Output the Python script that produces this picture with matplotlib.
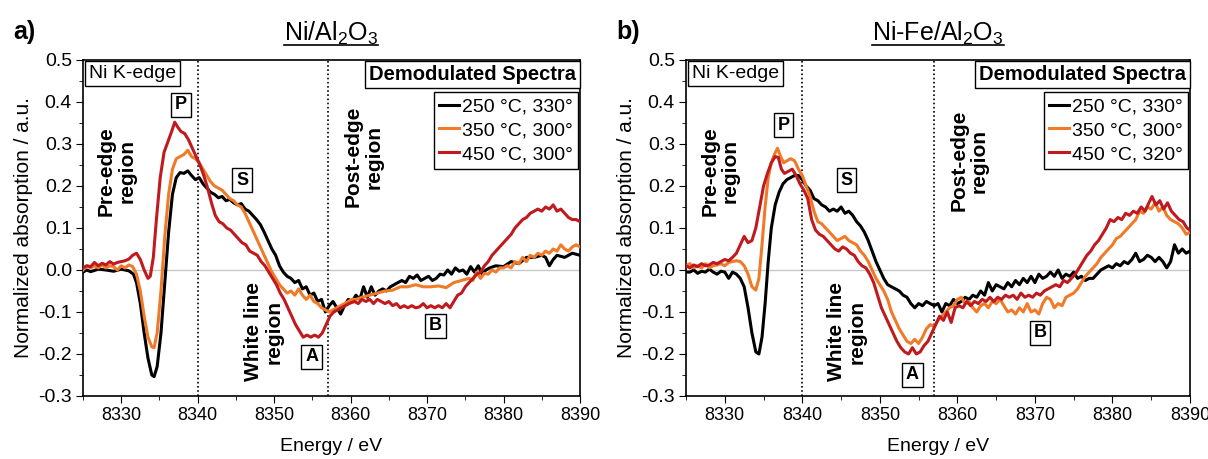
import matplotlib
matplotlib.use("Agg")
import matplotlib.pyplot as plt
from matplotlib.lines import Line2D
from matplotlib.ticker import MultipleLocator

plt.rcParams['font.family'] = ['Liberation Sans', 'DejaVu Sans']
plt.rcParams['mathtext.fontset'] = 'custom'
plt.rcParams['mathtext.rm'] = 'Liberation Sans'

# ---- panel a: Ni/Al2O3 ----
a_black_E = [8325.0, 8325.5, 8326, 8327, 8328, 8329, 8330, 8331, 8331.6, 8332, 8332.5, 8333, 8333.5, 8334,
             8334.3, 8334.7, 8335.2, 8335.7, 8336.2, 8336.7, 8337.2, 8337.7, 8338.2, 8338.7, 8339.2, 8339.7,
             8340.2, 8340.7, 8341.2, 8341.7, 8342.2, 8342.7, 8343.2, 8343.7, 8344.2, 8344.7, 8345.2, 8345.7,
             8346.2, 8346.7, 8347.2, 8347.7, 8348.2, 8348.7, 8349.2, 8349.7, 8350.2, 8350.7, 8351.2, 8351.7,
             8352.2, 8352.7, 8353.2, 8353.7, 8354.2, 8354.7, 8355.2, 8355.7, 8356.2, 8356.7, 8357.2, 8357.7,
             8358.2, 8358.7, 8359.2, 8359.7, 8360.2, 8360.7, 8361.2, 8361.7, 8362.2, 8362.7, 8363.2, 8363.7,
             8364.2, 8364.7, 8365.2, 8365.7, 8366.2, 8366.7, 8367.2, 8367.7, 8368.2, 8368.7, 8369.2, 8369.7,
             8370.2, 8370.7, 8371.2, 8371.7, 8372.2, 8372.7, 8373.2, 8373.7, 8374.2, 8374.7, 8375.2, 8375.7,
             8376.2, 8376.7, 8377.2, 8377.7, 8378.2, 8379, 8380, 8381, 8382, 8383, 8384, 8385, 8385.5, 8386,
             8386.5, 8387, 8388, 8389, 8390]
a_black_v = [-0.005, 0.0, -0.004, 0.002, 0.0, -0.003, 0.002, -0.002, -0.01, -0.03, -0.08, -0.15, -0.21, -0.25,
             -0.254, -0.23, -0.15, -0.03, 0.09, 0.18, 0.22, 0.232, 0.23, 0.236, 0.225, 0.215,
             0.22, 0.205, 0.195, 0.185, 0.18, 0.172, 0.175, 0.165, 0.168, 0.16, 0.155, 0.158,
             0.145, 0.14, 0.13, 0.12, 0.108, 0.09, 0.07, 0.05, 0.035, 0.01, -0.005, -0.015,
             -0.02, -0.03, -0.025, -0.045, -0.04, -0.06, -0.055, -0.075, -0.07, -0.1, -0.085, -0.075,
             -0.09, -0.105, -0.085, -0.07, -0.075, -0.06, -0.07, -0.04, -0.065, -0.04, -0.06, -0.05,
             -0.045, -0.05, -0.04, -0.035, -0.03, -0.025, -0.03, -0.015, -0.02, -0.012, -0.025, -0.02,
             -0.015, -0.025, -0.02, -0.01, -0.012, 0.0, -0.01, 0.005, -0.003, 0.0, -0.01, 0.008,
             -0.005, 0.01, -0.01, 0.0, 0.005, 0.01, 0.008, 0.02, 0.015, 0.03, 0.03, 0.035, 0.03, 0.01,
             0.025, 0.035, 0.03, 0.04, 0.035]

a_orange_E = [8325, 8325.5, 8326, 8326.5, 8327, 8327.5, 8328, 8328.5, 8329, 8329.5, 8330, 8330.5, 8331, 8331.5,
              8332, 8332.5, 8333, 8333.5, 8334, 8334.3, 8334.7, 8335.2, 8335.7, 8336.2, 8336.7, 8337.2, 8337.7,
              8338.2, 8338.7, 8339.2, 8339.7, 8340.2, 8340.7, 8341.2, 8341.7, 8342.2, 8342.7, 8343.2, 8343.7,
              8344.2, 8344.7, 8345.2, 8345.7, 8346.2, 8346.7, 8347.2, 8347.7, 8348.2, 8348.7, 8349.2, 8349.7,
              8350.2, 8350.7, 8351.2, 8351.7, 8352.2, 8352.7, 8353.2, 8353.7, 8354.2, 8354.7, 8355.2, 8355.7,
              8356.2, 8356.7, 8357.2, 8357.7, 8358.2, 8358.7, 8359.2, 8359.7, 8360.2, 8360.7, 8361.5, 8362.5,
              8363.5, 8364.5, 8365.5, 8366.5, 8367.5, 8368.5, 8369.5, 8370.5, 8371.5, 8372.5, 8373.5, 8374.5,
              8375.5, 8376, 8376.5, 8377, 8377.5, 8378, 8378.5, 8379, 8379.5, 8380, 8380.5, 8381, 8381.5, 8382,
              8382.5, 8383, 8383.5, 8384, 8384.5, 8385, 8385.5, 8386, 8386.5, 8387, 8387.5, 8388, 8388.5, 8389,
              8389.5, 8390]
a_orange_v = [0.0, 0.01, 0.005, 0.01, 0.005, 0.012, 0.005, 0.01, 0.008, 0.0, 0.01, 0.005, 0.012, 0.008,
              -0.01, -0.05, -0.11, -0.16, -0.183, -0.185, -0.15, -0.05, 0.08, 0.18, 0.24, 0.265, 0.27,
              0.275, 0.285, 0.27, 0.265, 0.255, 0.24, 0.225, 0.21, 0.2, 0.195, 0.19, 0.18,
              0.17, 0.165, 0.155, 0.15, 0.135, 0.115, 0.095, 0.075, 0.055, 0.035, 0.015, -0.005,
              -0.02, -0.035, -0.045, -0.055, -0.05, -0.06, -0.045, -0.06, -0.07, -0.06, -0.075, -0.08,
              -0.09, -0.095, -0.1, -0.095, -0.09, -0.085, -0.08, -0.075, -0.07, -0.07, -0.065, -0.06,
              -0.055, -0.05, -0.048, -0.04, -0.04, -0.035, -0.04, -0.04, -0.038, -0.042, -0.03, -0.025,
              -0.02, -0.025, -0.005, -0.02, -0.008, -0.01, 0.0, -0.005, 0.005, 0.005, 0.01, 0.005, 0.02, 0.015,
              0.03, 0.02, 0.035, 0.03, 0.04, 0.035, 0.045, 0.04, 0.05, 0.045, 0.06, 0.05, 0.045, 0.055,
              0.06, 0.055]

a_red_E = [8325, 8325.5, 8326, 8326.5, 8327, 8327.5, 8328, 8328.5, 8329, 8329.5, 8330, 8330.5, 8331, 8331.5,
           8332, 8332.5, 8333, 8333.5, 8333.8, 8334.2, 8334.6, 8335.1, 8335.6, 8336.1, 8336.6, 8337, 8337.4,
           8337.8, 8338.3, 8338.8, 8339.3, 8339.8, 8340.3, 8340.8, 8341.3, 8341.8, 8342.3, 8342.8, 8343.3,
           8343.8, 8344.3, 8344.8, 8345.3, 8345.8, 8346.3, 8346.8, 8347.3, 8347.8, 8348.3, 8348.8, 8349.3,
           8349.8, 8350.3, 8350.8, 8351.3, 8351.8, 8352.3, 8352.8, 8353.3, 8353.8, 8354.3, 8354.8, 8355.3,
           8355.8, 8356.3, 8356.8, 8357.3, 8357.8, 8358.3, 8358.8, 8359.3, 8359.8, 8360.5, 8361, 8361.5, 8362,
           8362.5, 8363, 8363.5, 8364, 8364.5, 8365, 8365.5, 8366, 8366.5, 8367, 8367.5, 8368, 8368.5, 8369,
           8369.5, 8370, 8370.5, 8371, 8371.5, 8372, 8372.5, 8373, 8373.5, 8374, 8374.5, 8375, 8375.5, 8376,
           8376.5, 8377, 8377.5, 8378, 8378.5, 8379, 8379.5, 8380, 8380.5, 8381, 8381.5, 8382, 8382.5, 8383,
           8383.5, 8384, 8384.5, 8385, 8385.5, 8386, 8386.5, 8387, 8387.5, 8388, 8388.5, 8389, 8389.5, 8390]
a_red_v = [0.005, 0.01, 0.008, 0.018, 0.01, 0.016, 0.012, 0.02, 0.014, 0.018, 0.02, 0.022, 0.026, 0.035,
           0.04, 0.025, 0.0, -0.02, -0.015, 0.03, 0.12, 0.22, 0.28, 0.305, 0.33, 0.352, 0.34,
           0.33, 0.325, 0.31, 0.29, 0.27, 0.25, 0.225, 0.195, 0.16, 0.13, 0.115, 0.11,
           0.1, 0.095, 0.085, 0.075, 0.065, 0.06, 0.045, 0.04, 0.035, 0.02, 0.01, -0.005,
           -0.02, -0.035, -0.055, -0.07, -0.09, -0.11, -0.13, -0.145, -0.16, -0.155, -0.16, -0.155,
           -0.16, -0.15, -0.13, -0.11, -0.1, -0.095, -0.09, -0.085, -0.08, -0.075, -0.08, -0.07, -0.075,
           -0.07, -0.08, -0.07, -0.075, -0.08, -0.075, -0.085, -0.08, -0.09, -0.085, -0.09, -0.085, -0.09, -0.088,
           -0.08, -0.09, -0.085, -0.09, -0.085, -0.09, -0.08, -0.09, -0.075, -0.06, -0.055, -0.04, -0.03, -0.02,
           -0.01, -0.005, 0.01, 0.02, 0.035, 0.045, 0.055, 0.065, 0.075, 0.085, 0.1, 0.11, 0.12, 0.125,
           0.135, 0.14, 0.145, 0.14, 0.15, 0.145, 0.155, 0.14, 0.145, 0.135, 0.125, 0.12, 0.12, 0.115]

# ---- panel b: Ni-Fe/Al2O3 ----
b_black_E = [8325, 8325.5, 8326, 8326.5, 8327, 8327.5, 8328, 8328.5, 8329, 8329.5, 8330, 8330.5, 8331, 8331.5,
             8332, 8332.5, 8333, 8333.5, 8334, 8334.4, 8334.8, 8335.2, 8335.6, 8336, 8336.5, 8337, 8337.5,
             8338, 8338.5, 8339, 8339.5, 8340, 8340.5, 8341, 8341.5, 8342, 8342.5, 8343, 8343.5, 8344,
             8344.5, 8345, 8345.5, 8346, 8346.5, 8347, 8347.5, 8348, 8348.5, 8349, 8349.5, 8350, 8350.5,
             8351, 8351.5, 8352, 8352.5, 8353, 8353.5, 8354, 8354.5, 8355, 8355.5, 8356, 8356.5, 8357,
             8357.5, 8358, 8358.5, 8359, 8359.5, 8360, 8360.5, 8361, 8361.5, 8362, 8362.5, 8363, 8363.5,
             8364, 8364.5, 8365, 8365.5, 8366, 8366.5, 8367, 8367.5, 8368, 8368.5, 8369, 8369.5, 8370,
             8370.5, 8371, 8371.5, 8372, 8372.5, 8373, 8373.5, 8374, 8374.5, 8375, 8375.5, 8376, 8376.5,
             8377, 8377.5, 8378, 8378.5, 8379, 8379.5, 8380, 8380.5, 8381, 8381.5, 8382, 8382.5, 8383,
             8383.5, 8384, 8384.5, 8385, 8385.5, 8386, 8386.5, 8387, 8387.5, 8388, 8388.5, 8389, 8389.5, 8390]
b_black_v = [-0.005, -0.005, 0.0, -0.008, -0.003, -0.005, 0.002, -0.005, -0.01, -0.003, -0.005, -0.02, -0.005, -0.01,
             -0.02, -0.04, -0.09, -0.15, -0.195, -0.2, -0.16, -0.08, 0.02, 0.1, 0.155, 0.185, 0.205,
             0.215, 0.22, 0.225, 0.225, 0.215, 0.2, 0.19, 0.17, 0.165, 0.155, 0.15, 0.14, 0.145,
             0.14, 0.15, 0.135, 0.14, 0.13, 0.115, 0.105, 0.09, 0.07, 0.045, 0.02, 0.0, -0.02,
             -0.035, -0.04, -0.045, -0.05, -0.06, -0.065, -0.08, -0.09, -0.08, -0.085, -0.075, -0.08, -0.085,
             -0.08, -0.1, -0.08, -0.085, -0.07, -0.08, -0.075, -0.065, -0.07, -0.06, -0.065, -0.05, -0.06,
             -0.03, -0.05, -0.035, -0.04, -0.045, -0.03, -0.04, -0.025, -0.035, -0.02, -0.03, -0.015, -0.03,
             -0.01, -0.02, -0.015, -0.005, -0.015, 0.0, -0.02, -0.01, -0.015, -0.005, -0.02, -0.015, -0.025,
             -0.02, -0.02, -0.01, 0.0, 0.005, 0.01, 0.005, 0.015, 0.01, 0.02, 0.015, 0.025, 0.04,
             0.02, 0.025, 0.035, 0.03, 0.02, 0.03, 0.02, 0.005, 0.02, 0.06, 0.04, 0.05, 0.04, 0.045]

b_orange_E = [8325, 8325.5, 8326, 8326.5, 8327, 8327.5, 8328, 8328.5, 8329, 8329.5, 8330, 8330.5, 8331, 8331.5,
              8332, 8332.5, 8333, 8333.5, 8334, 8334.4, 8334.8, 8335.2, 8335.6, 8336, 8336.4, 8336.8, 8337.2,
              8337.6, 8338, 8338.5, 8339, 8339.5, 8340, 8340.5, 8341, 8341.5, 8342, 8342.5, 8343, 8343.5,
              8344, 8344.5, 8345, 8345.5, 8346, 8346.5, 8347, 8347.5, 8348, 8348.5, 8349, 8349.5, 8350,
              8350.5, 8351, 8351.5, 8352, 8352.5, 8353, 8353.5, 8354, 8354.5, 8355, 8355.5, 8356, 8356.5,
              8357, 8357.5, 8358, 8358.5, 8359, 8359.5, 8360, 8360.5, 8361, 8361.5, 8362, 8362.5, 8363,
              8363.5, 8364, 8364.5, 8365, 8365.5, 8366, 8366.5, 8367, 8367.5, 8368, 8368.5, 8369, 8369.5,
              8370, 8370.5, 8371, 8371.5, 8372, 8372.5, 8373, 8373.5, 8374, 8374.5, 8375, 8375.5, 8376,
              8376.5, 8377, 8377.5, 8378, 8378.5, 8379, 8379.5, 8380, 8380.5, 8381, 8381.5, 8382, 8382.5,
              8383, 8383.5, 8384, 8384.5, 8385, 8385.5, 8386, 8386.5, 8387, 8387.5, 8388, 8388.5, 8389,
              8389.5, 8390]
b_orange_v = [0.01, 0.015, 0.005, 0.01, 0.005, 0.015, 0.005, 0.01, 0.012, 0.015, 0.01, 0.018, 0.02, 0.022,
              0.02, 0.01, -0.01, -0.04, -0.048, -0.02, 0.06, 0.15, 0.22, 0.255, 0.275, 0.29, 0.27,
              0.255, 0.26, 0.265, 0.26, 0.24, 0.225, 0.2, 0.175, 0.14, 0.115, 0.11, 0.1, 0.09,
              0.08, 0.07, 0.075, 0.08, 0.07, 0.065, 0.06, 0.045, 0.035, 0.02, 0.0, -0.02, -0.035,
              -0.05, -0.07, -0.1, -0.12, -0.14, -0.155, -0.17, -0.175, -0.165, -0.175, -0.16, -0.14, -0.13,
              -0.135, -0.12, -0.11, -0.1, -0.09, -0.085, -0.07, -0.065, -0.08, -0.075, -0.09, -0.1, -0.085,
              -0.08, -0.09, -0.075, -0.08, -0.07, -0.085, -0.1, -0.095, -0.105, -0.09, -0.1, -0.08, -0.1,
              -0.095, -0.105, -0.08, -0.065, -0.07, -0.09, -0.08, -0.085, -0.065, -0.06, -0.055, -0.045, -0.03,
              -0.015, -0.005, 0.005, 0.015, 0.03, 0.04, 0.05, 0.06, 0.075, 0.08, 0.09, 0.1, 0.11,
              0.12, 0.14, 0.135, 0.15, 0.145, 0.16, 0.14, 0.15, 0.13, 0.12, 0.115, 0.11, 0.1,
              0.085, 0.09]

b_red_E = [8325, 8325.5, 8326, 8326.5, 8327, 8327.5, 8328, 8328.5, 8329, 8329.5, 8330, 8330.5, 8331, 8331.5,
           8332, 8332.5, 8333, 8333.5, 8334, 8334.5, 8335, 8335.5, 8336, 8336.5, 8336.9, 8337.3, 8337.7,
           8338.2, 8338.7, 8339.2, 8339.7, 8340.2, 8340.7, 8341.2, 8341.7, 8342.2, 8342.7, 8343.2, 8343.7,
           8344.2, 8344.7, 8345.2, 8345.7, 8346.2, 8346.7, 8347.2, 8347.7, 8348.2, 8348.7, 8349.2, 8349.7,
           8350.2, 8350.7, 8351.2, 8351.7, 8352.2, 8352.7, 8353.2, 8353.7, 8354.2, 8354.7, 8355.2, 8355.7,
           8356.2, 8356.7, 8357.2, 8357.7, 8358.2, 8358.7, 8359.2, 8359.7, 8360.2, 8360.7, 8361.2, 8361.7,
           8362.2, 8362.7, 8363.2, 8363.7, 8364.2, 8364.7, 8365.2, 8365.7, 8366.2, 8366.7, 8367.2, 8367.7,
           8368.2, 8368.7, 8369.2, 8369.7, 8370.2, 8370.7, 8371.2, 8371.7, 8372.2, 8372.7, 8373.2, 8373.7,
           8374.2, 8374.7, 8375.2, 8375.7, 8376.2, 8376.7, 8377.2, 8377.7, 8378.2, 8378.7, 8379.2, 8379.7,
           8380.2, 8380.7, 8381.2, 8381.7, 8382.2, 8382.7, 8383.2, 8383.7, 8384.2, 8384.7, 8385.1, 8385.6,
           8386.1, 8386.6, 8387.1, 8387.6, 8388.1, 8388.6, 8389.1, 8389.6, 8390]
b_red_v = [0.01, 0.005, 0.012, 0.008, 0.015, 0.01, 0.012, 0.018, 0.015, 0.02, 0.025, 0.022, 0.03, 0.04,
           0.06, 0.08, 0.065, 0.07, 0.1, 0.15, 0.2, 0.23, 0.255, 0.27, 0.268, 0.24, 0.23,
           0.235, 0.24, 0.225, 0.205, 0.19, 0.17, 0.12, 0.095, 0.085, 0.08, 0.07, 0.06,
           0.05, 0.045, 0.055, 0.05, 0.04, 0.035, 0.02, 0.01, 0.005, -0.01, -0.03, -0.06,
           -0.09, -0.11, -0.13, -0.15, -0.17, -0.185, -0.195, -0.2, -0.185, -0.2, -0.195, -0.18,
           -0.17, -0.15, -0.13, -0.11, -0.12, -0.1, -0.125, -0.09, -0.085, -0.09, -0.075, -0.085,
           -0.075, -0.08, -0.07, -0.075, -0.065, -0.075, -0.065, -0.07, -0.06, -0.065, -0.06, -0.07,
           -0.055, -0.065, -0.06, -0.065, -0.055, -0.06, -0.05, -0.045, -0.04, -0.035, -0.04, -0.025,
           -0.03, -0.02, -0.01, 0.005, 0.02, 0.035, 0.045, 0.06, 0.07, 0.085, 0.1, 0.12,
           0.115, 0.125, 0.12, 0.135, 0.13, 0.14, 0.135, 0.15, 0.14, 0.16, 0.175, 0.155,
           0.165, 0.145, 0.16, 0.14, 0.13, 0.12, 0.115, 0.1, 0.095]

colors = ['black', '#f07a28', '#c0191e']
a_labels = ['250 °C, 330°', '350 °C, 300°', '450 °C, 300°']
b_labels = ['250 °C, 330°', '350 °C, 300°', '450 °C, 320°']
titles = ['Ni/Al$_2$O$_3$', 'Ni-Fe/Al$_2$O$_3$']
panel_tags = ['a)', 'b)']
# letter annotations (energy, value)
a_marks = {'P': (8337.8, 0.393), 'S': (8345.8, 0.214), 'A': (8354.9, -0.207), 'B': (8371.1, -0.133)}
b_marks = {'P': (8337.6, 0.345), 'S': (8345.7, 0.214), 'A': (8354.2, -0.25), 'B': (8370.7, -0.15)}
# rotated region labels (energy, value) for each panel
a_regions = [(8329.4, 0.236), (8348.6, -0.147), (8361.7, 0.27)]
b_regions = [(8329.4, 0.236), (8345.7, -0.147), (8361.5, 0.26)]
region_text = ['Pre-edge\nregion', 'White line\nregion', 'Post-edge\nregion']

fig = plt.figure(figsize=(12.08, 4.59), dpi=100)
ax1 = fig.add_axes([0.0687, 0.1373, 0.4114, 0.732])
ax2 = fig.add_axes([0.5679, 0.1373, 0.4172, 0.732])

panels = [
    (ax1, [(a_black_E, a_black_v), (a_orange_E, a_orange_v), (a_red_E, a_red_v)], a_labels, a_marks, a_regions),
    (ax2, [(b_black_E, b_black_v), (b_orange_E, b_orange_v), (b_red_E, b_red_v)], b_labels, b_marks, b_regions),
]

box = dict(boxstyle='square,pad=0.2', fc='white', ec='black', lw=1)

for ax, curves, labels, marks, regions in panels:
    ax.axhline(0, color='#c8c8c8', lw=1, zorder=1)
    ax.axvline(8340, color='black', ls=(0, (1, 1.5)), lw=1.2, zorder=1)
    ax.axvline(8357, color='black', ls=(0, (1, 1.5)), lw=1.2, zorder=1)
    for (E, v), c, lab in zip(curves, colors, labels):
        ax.plot(E, v, color=c, lw=2.2, label=lab, zorder=3)

    ax.set_xlim(8325, 8390)
    ax.set_ylim(-0.3, 0.5)
    ax.xaxis.set_major_locator(MultipleLocator(10))
    ax.xaxis.set_minor_locator(MultipleLocator(5))
    ax.yaxis.set_minor_locator(MultipleLocator(0.05))
    ax.set_yticks([-0.3, -0.2, -0.1, 0.0, 0.1, 0.2, 0.3, 0.4, 0.5])
    ax.set_yticklabels(['-0.3', '-0.2', '-0.1', '0.0', '0.1', '0.2', '0.3', '0.4', '0.5'])
    ax.tick_params(which='both', direction='out')
    ax.tick_params(axis='y', labelsize=14)
    ax.tick_params(axis='x', labelsize=13)
    ax.tick_params(which='major', length=5, pad=3)
    ax.tick_params(which='minor', length=3)
    for s in ax.spines.values():
        s.set_linewidth(1.2)
    ax.set_xlabel('Energy / eV', fontsize=14, labelpad=10)
    ax.set_ylabel('Normalized absorption / a.u.', fontsize=15, labelpad=4)

    ax.text(0.012, 0.985, 'Ni K-edge', transform=ax.transAxes, fontsize=14,
            ha='left', va='top', bbox=box, zorder=5)
    ax.text(0.992, 0.985, 'Demodulated Spectra', transform=ax.transAxes, fontsize=14.5,
            fontweight='bold', ha='right', va='top', bbox=box, zorder=5)
    leg = ax.legend(loc='upper right', bbox_to_anchor=(0.997, 0.905), fontsize=14,
                    frameon=True, fancybox=False, edgecolor='black', framealpha=1,
                    handlelength=1.0, handletextpad=0.15, borderpad=0.3, labelspacing=0.32,
                    borderaxespad=0.0)
    leg.get_frame().set_linewidth(1)

    for letter, (ex, ey) in marks.items():
        ax.text(ex, ey, letter, fontsize=13, fontweight='bold', ha='center', va='center',
                bbox=box, zorder=5)

    for txt, (rx, ry) in zip(region_text, regions):
        ax.text(rx, ry, txt, rotation=90, fontsize=15, fontweight='bold',
                ha='center', va='center', multialignment='center', linespacing=1.1)

# titles (underlined) and panel tags
fig.canvas.draw()
renderer = fig.canvas.get_renderer()
for ax, title, tag in zip([ax1, ax2], titles, panel_tags):
    t = ax.text(0.5, 1.04, title, transform=ax.transAxes, fontsize=18, ha='center', va='bottom')
    bb = t.get_window_extent(renderer=renderer).transformed(fig.transFigure.inverted())
    fig.add_artist(Line2D([bb.x0, bb.x1], [bb.y0 + 0.004, bb.y0 + 0.004], color='black', lw=1.2,
                          transform=fig.transFigure))
    fig.text(ax.get_position().x0 - 0.058, 0.905, tag, fontsize=18, fontweight='bold',
             ha='left', va='bottom')

fig.savefig('out.png', dpi=100)
